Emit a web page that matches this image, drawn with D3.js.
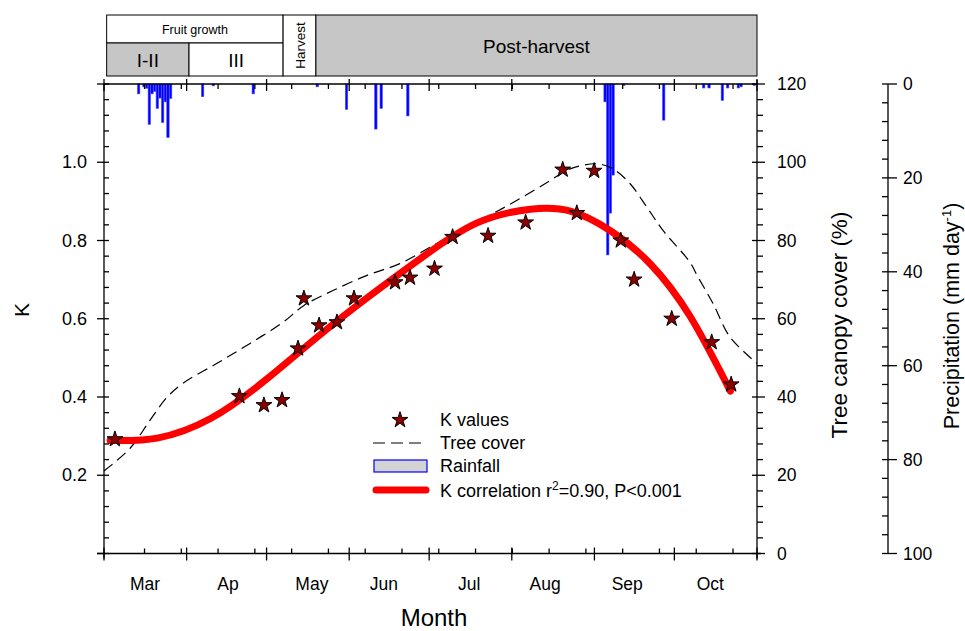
<!DOCTYPE html>
<html>
<head>
<meta charset="utf-8">
<script src="https://cdn.jsdelivr.net/npm/d3@7"></script>
<style>
body { margin: 0; background: #fff; }
text { font-family: Arial, "Liberation Sans", sans-serif; fill: #000; }
</style>
</head>
<body>
<svg id="svg" width="965" height="631"></svg>
<script>
// days counted from 1 March
var monthNames = ["Mar", "Ap", "May", "Jun", "Jul", "Aug", "Sep", "Oct"];
var monthStarts = [0, 31, 61, 92, 122, 153, 184, 214, 245];
var monthLabelDays = [15.4, 46.5, 78, 105, 137, 165.5, 196.3, 227.5];

var kDays = [4.1, 50.8, 60, 66.8, 72.8, 75, 80.7, 87.4, 93.8, 109.2, 114.8, 124, 130.8, 144.1, 158.2, 172.1, 177.4, 183.9, 193.9, 198.9, 213, 228, 235.3];
var kValues = [0.292, 0.402, 0.379, 0.392, 0.524, 0.652, 0.583, 0.591, 0.652, 0.693, 0.705, 0.728, 0.809, 0.812, 0.846, 0.981, 0.870, 0.978, 0.80, 0.70, 0.60, 0.54, 0.432];

var fitDays = [2.3, 20, 40, 60, 80, 100, 120, 140, 160, 175, 190, 205, 220, 235];
var fitK = [0.289, 0.295, 0.345, 0.44, 0.553, 0.66, 0.76, 0.845, 0.88, 0.875, 0.825, 0.74, 0.605, 0.415];

var coverDays = [0, 9.8, 17.3, 23.6, 29.6, 42.4, 54.8, 67.2, 75, 85.9, 98.7, 111, 126, 141, 153.5, 166.2, 174.9, 185, 191, 197.4, 203.8, 209.8, 219.9, 222.5, 228.5, 234.9, 245];
var coverPct = [21.1, 26.9, 34.1, 39.9, 43.5, 48.6, 53.7, 59.1, 63.4, 67.2, 71.1, 74.1, 79.7, 85.1, 89.7, 94.8, 98.3, 99.6, 98.3, 94.5, 88.4, 82.5, 74.4, 71.1, 63.9, 55.3, 48.6];

var rainDays = [13, 15, 16, 17, 18, 19, 20, 21, 22, 23, 24, 25, 37, 41, 56, 80, 91, 102, 104, 114, 188, 189, 190, 191, 195, 210, 225, 227, 232, 234, 238, 239, 244];
var rainMm = [2.1, 0.6, 0.9, 8.6, 2.1, 1.6, 5.2, 3.0, 8.2, 3.8, 11.4, 3.1, 2.7, 0.4, 2.1, 0.6, 5.4, 9.6, 5.2, 6.8, 3.8, 36.4, 27.5, 19.4, 0.3, 7.7, 0.85, 0.85, 3.5, 0.85, 0.85, 0.6, 0.3];

var phaseNames = ["Fruit growth", "I-II", "III", "Harvest", "Post-harvest"];
var phaseStart = [1, 1, 31.9, 67.2, 79.5];
var phaseEnd = [67.2, 31.9, 67.2, 79.5, 245];
var phaseRow = ["top", "bottom", "bottom", "full", "full"];
var phaseFill = ["#fff", "#c6c6c6", "#fff", "#fff", "#c6c6c6"];

var svg = d3.select("#svg");
var pLeft = 104, pRight = 757, pTop = 84, pBottom = 553.5;

var x = d3.scaleLinear().domain([0, 245]).range([pLeft, pRight]);
var yK = d3.scaleLinear().domain([0, 1.2]).range([pBottom, pTop]);
var yC = d3.scaleLinear().domain([0, 120]).range([pBottom, pTop]);
var yP = d3.scaleLinear().domain([0, 100]).range([pTop, pBottom]);

// phase band
var rowY = { top: [15, 43], bottom: [43, 76], full: [15, 76] };
phaseNames.forEach(function (n, i) {
  var y0 = rowY[phaseRow[i]][0], y1 = rowY[phaseRow[i]][1];
  svg.append("rect")
    .attr("x", x(phaseStart[i])).attr("y", y0)
    .attr("width", x(phaseEnd[i]) - x(phaseStart[i])).attr("height", y1 - y0)
    .style("fill", phaseFill[i]).style("stroke", "#000").style("stroke-width", 1);
  var cx = (x(phaseStart[i]) + x(phaseEnd[i])) / 2, cy = (y0 + y1) / 2;
  var t = svg.append("text").text(n).attr("text-anchor", "middle").attr("dominant-baseline", "central");
  if (n == "Harvest") {
    t.attr("transform", "translate(" + (cx + 1) + "," + cy + ") rotate(-90)").style("font-size", "13.5px");
  } else {
    t.attr("x", cx).attr("y", cy + 1)
      .style("font-size", n == "Fruit growth" ? "12.5px" : "19px");
  }
});

// rainfall bars hanging from top
svg.append("g").selectAll("rect").data(rainDays).enter().append("rect")
  .attr("x", function (d) { return x(d) - 1.2; })
  .attr("y", pTop)
  .attr("width", 2.4)
  .attr("height", function (d, i) { return yP(rainMm[i]) - pTop; })
  .style("fill", "#0000ff")
  .style("stroke", "#4a4aff")
  .style("stroke-width", 0.6);

// tree cover dashed
var coverLine = d3.line()
  .x(function (d) { return x(d); })
  .y(function (d, i) { return yC(coverPct[i]); })
  .curve(d3.curveCatmullRom);
svg.append("path").datum(coverDays).attr("d", coverLine)
  .style("fill", "none").style("stroke", "#000").style("stroke-width", 1.2)
  .style("stroke-dasharray", "11,6");

// K fit
var fitLine = d3.line()
  .x(function (d) { return x(d); })
  .y(function (d, i) { return yK(fitK[i]); })
  .curve(d3.curveNatural);
svg.append("path").datum(fitDays).attr("d", fitLine)
  .style("fill", "none").style("stroke", "#ff0000").style("stroke-width", 7)
  .style("stroke-linecap", "round");

// K values
var star = d3.symbol().type(d3.symbolStar).size(78);
svg.append("g").selectAll("path").data(kDays).enter().append("path")
  .attr("d", star)
  .attr("transform", function (d, i) { return "translate(" + x(d) + "," + yK(kValues[i]) + ")"; })
  .style("fill", "#8b0000").style("stroke", "#000").style("stroke-width", 1);

// axes
function line(x1, y1, x2, y2) {
  svg.append("line").attr("x1", x1).attr("y1", y1).attr("x2", x2).attr("y2", y2)
    .style("stroke", "#000").style("stroke-width", 1.3);
}
line(pLeft, pTop, pRight, pTop);
line(pLeft - 7, pBottom, pRight + 4, pBottom);
line(pLeft, pTop, pLeft, pBottom + 5);
line(pRight, pTop - 4, pRight, pBottom + 5);

// x ticks
monthStarts.forEach(function (d) {
  line(x(d), pBottom - 6, x(d), pBottom + 7);
  line(x(d), pTop - 5, x(d), pTop + 7);
});
d3.range(15.2, 240, 13.8).forEach(function (d) {
  line(x(d), pBottom - 5, x(d), pBottom);
  line(x(d), pTop, x(d), pTop + 5);
});
monthNames.forEach(function (m, i) {
  svg.append("text").text(m)
    .attr("x", x(monthLabelDays[i]))
    .attr("y", 590).attr("text-anchor", "middle").style("font-size", "17.5px");
});

// K axis
d3.range(0, 1.2001, 0.04).forEach(function (v) {
  var major = Math.abs(v / 0.2 - Math.round(v / 0.2)) < 1e-6;
  if (major) line(pLeft - 7, yK(v), pLeft + 5, yK(v));
  else line(pLeft, yK(v), pLeft + 5, yK(v));
});
[0.2, 0.4, 0.6, 0.8, 1.0].forEach(function (v) {
  svg.append("text").text(d3.format(".1f")(v)).attr("x", 87).attr("y", yK(v))
    .attr("text-anchor", "end").attr("dominant-baseline", "central").style("font-size", "18px");
});

// canopy axis
d3.range(0, 120.01, 4).forEach(function (v) {
  if (v % 20 == 0) line(pRight - 5, yC(v), pRight + 8, yC(v));
  else line(pRight, yC(v), pRight + 6, yC(v));
});
d3.range(0, 121, 20).forEach(function (v) {
  svg.append("text").text(v).attr("x", 777).attr("y", yC(v))
    .attr("dominant-baseline", "central").style("font-size", "17.5px");
});

// precipitation axis
var px = 888;
line(px, pTop, px, pBottom);
d3.range(0, 100.01, 4).forEach(function (v) {
  if (v % 20 == 0) line(px - 6, yP(v), px + 9, yP(v));
  else line(px - 6, yP(v), px, yP(v));
});
d3.range(0, 101, 20).forEach(function (v) {
  svg.append("text").text(v).attr("x", 903).attr("y", yP(v))
    .attr("dominant-baseline", "central").style("font-size", "17.5px");
});

// titles
svg.append("text").text("K").attr("transform", "translate(29,310) rotate(-90)")
  .attr("text-anchor", "middle").style("font-size", "21px");
svg.append("text").text("Month").attr("x", 434).attr("y", 626)
  .attr("text-anchor", "middle").style("font-size", "24px");
svg.append("text").text("Tree canopy cover (%)").attr("transform", "translate(847,325) rotate(-90)")
  .attr("text-anchor", "middle").style("font-size", "22.5px");
var pt = svg.append("text").attr("transform", "translate(959,316) rotate(-90)")
  .attr("text-anchor", "middle").style("font-size", "21.5px");
pt.append("tspan").text("Precipitation (mm day");
pt.append("tspan").text("-1").attr("dy", -8).style("font-size", "13px");
pt.append("tspan").text(")").attr("dy", 8);

// legend
var lg = svg.append("g");
lg.append("path").attr("d", star).attr("transform", "translate(400,420)")
  .style("fill", "#8b0000").style("stroke", "#000").style("stroke-width", 1);
lg.append("line").attr("x1", 373).attr("x2", 422).attr("y1", 443).attr("y2", 443)
  .style("stroke", "#000").style("stroke-width", 1.2).style("stroke-dasharray", "12,6");
lg.append("rect").attr("x", 374).attr("y", 460).attr("width", 53).attr("height", 12)
  .style("fill", "#d3d3d3").style("stroke", "#0000ff").style("stroke-width", 1.2);
lg.append("line").attr("x1", 376).attr("x2", 426).attr("y1", 490).attr("y2", 490)
  .style("stroke", "#ff0000").style("stroke-width", 7).style("stroke-linecap", "round");
var legendText = ["K values", "Tree cover", "Rainfall"];
var legendY = [420, 443, 466];
legendText.forEach(function (t, i) {
  lg.append("text").text(t).attr("x", 440).attr("y", legendY[i])
    .attr("dominant-baseline", "central").style("font-size", "18px");
});
var kt = lg.append("text").attr("x", 440).attr("y", 496.5).style("font-size", "18px");
kt.append("tspan").text("K correlation r");
kt.append("tspan").text("2").attr("dy", -7).style("font-size", "12px");
kt.append("tspan").text("=0.90, P<0.001").attr("dy", 7);
</script>
</body>
</html>
